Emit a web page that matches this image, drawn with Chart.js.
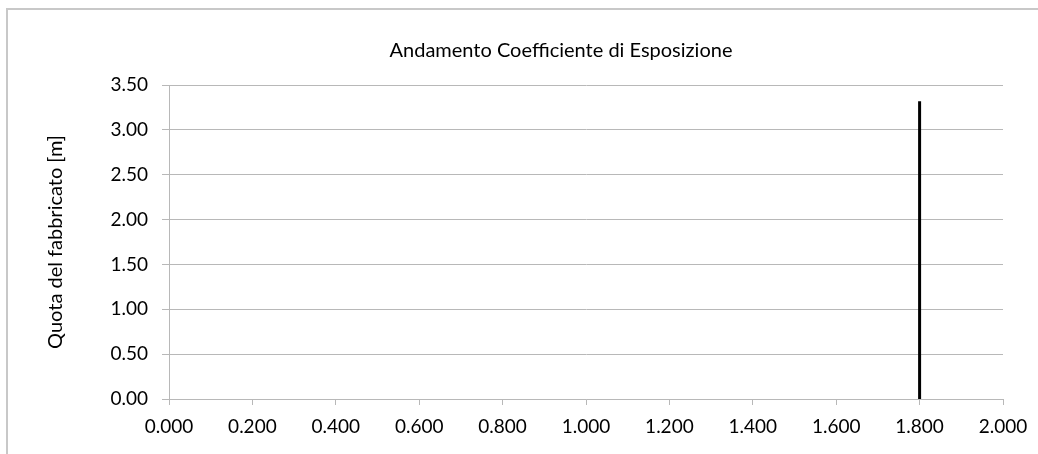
<!DOCTYPE html>
<html>
<head>
<meta charset="utf-8">
<script src="https://cdn.jsdelivr.net/npm/chart.js@4/dist/chart.umd.min.js"></script>
<style>
  html, body { margin: 0; padding: 0; background: #ffffff; overflow: hidden; }
  #wrap { position: relative; width: 1038px; height: 454px; }
  #frame { position: absolute; left: 6px; top: 8px; width: 1100px; height: 500px;
           border-left: 2px solid #c8c8c8; border-top: 2px solid #c8c8c8; }
  #cv { position: absolute; left: 0; top: 0; }
</style>
</head>
<body>
<div id="wrap">
  <div id="frame"></div>
  <canvas id="cv" width="1038" height="454"></canvas>
</div>
<script>
// ---- data ----
const chartTitle = "Andamento Coefficiente di Esposizione";
const yAxisTitle = "Quota del fabbricato [m]";
const xValues = [1.8, 1.8];          // coefficiente di esposizione
const yValues = [0.0, 3.32];         // quota [m]
const xTicks = [0.0, 0.2, 0.4, 0.6, 0.8, 1.0, 1.2, 1.4, 1.6, 1.8, 2.0];
const yTicks = [0.0, 0.5, 1.0, 1.5, 2.0, 2.5, 3.0, 3.5];

const points = xValues.map((x, i) => ({ x: x, y: yValues[i] }));

Chart.defaults.font.family = "Lato, 'Open Sans', sans-serif";
Chart.defaults.color = "#000000";

const gridColor = "#b8b8b8";

const titlePlugin = {
  id: "customTitle",
  afterDraw(chart) {
    const ctx = chart.ctx;
    ctx.save();
    ctx.font = "20px Lato, 'Open Sans', sans-serif";
    ctx.fillStyle = "#000000";
    ctx.textAlign = "center";
    ctx.textBaseline = "middle";
    ctx.fillText(chartTitle, 561, 51);
    ctx.restore();
  }
};

new Chart(document.getElementById("cv"), {
  type: "scatter",
  data: {
    datasets: [{
      data: points,
      showLine: true,
      borderColor: "#000000",
      backgroundColor: "#000000",
      borderWidth: 3,
      pointRadius: 0,
      pointHoverRadius: 0
    }]
  },
  options: {
    responsive: false,
    animation: false,
    events: [],
    layout: { padding: { top: 85, right: 35, bottom: 0, left: 0 } },
    plugins: {
      legend: { display: false },
      tooltip: { enabled: false },
      title: { display: false }
    },
    scales: {
      x: {
        type: "linear",
        min: xTicks[0],
        max: xTicks[xTicks.length - 1],
        afterBuildTicks: (s) => { s.ticks = xTicks.map(v => ({ value: v })); },
        afterFit: (s) => { s.height = 55; s.paddingLeft = 0; s.paddingRight = 0; },
        ticks: {
          callback: (v) => Number(v).toFixed(3),
          font: { size: 19 },
          padding: 10,
          maxRotation: 0,
          autoSkip: false
        },
        grid: { drawOnChartArea: false, drawTicks: true, tickLength: 6, color: gridColor, lineWidth: 1 },
        border: { color: gridColor, width: 1 }
      },
      y: {
        type: "linear",
        min: yTicks[0],
        max: yTicks[yTicks.length - 1],
        afterBuildTicks: (s) => { s.ticks = yTicks.map(v => ({ value: v })); },
        afterFit: (s) => { s.width = 169; s.paddingTop = 0; s.paddingBottom = 0; },
        ticks: {
          callback: (v) => Number(v).toFixed(2),
          font: { size: 19 },
          padding: 14,
          autoSkip: false
        },
        grid: { drawOnChartArea: true, drawTicks: true, tickLength: 7, color: gridColor, lineWidth: 1 },
        border: { color: gridColor, width: 1 },
        title: {
          display: true,
          text: yAxisTitle,
          font: { size: 20 },
          color: "#000000",
          padding: { top: 44, bottom: 0 }
        }
      }
    }
  },
  plugins: [titlePlugin]
});
</script>
</body>
</html>
